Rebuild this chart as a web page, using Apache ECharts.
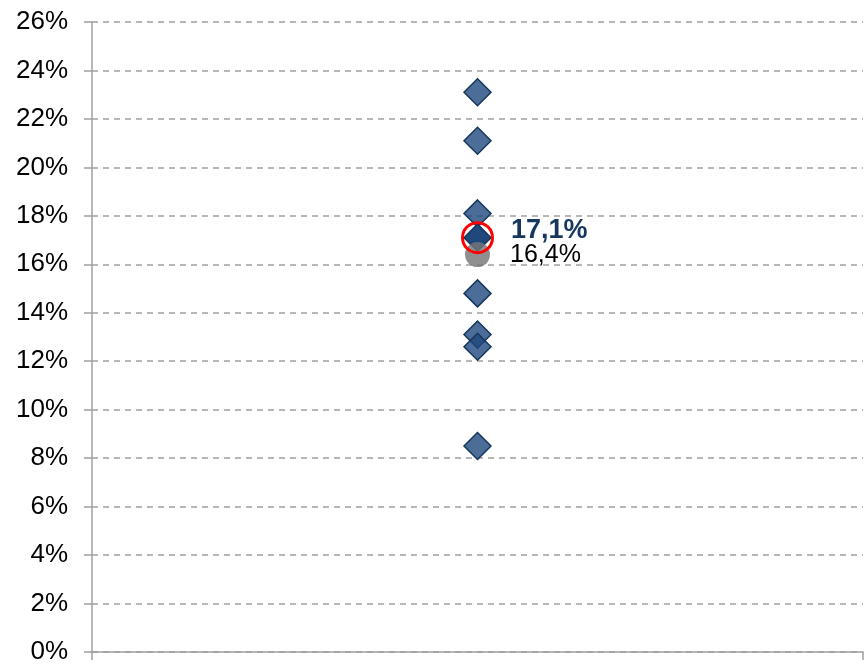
<!DOCTYPE html>
<html><head><meta charset="utf-8">
<script src="https://cdn.jsdelivr.net/npm/echarts@6/dist/echarts.min.js"></script>
<style>html,body{margin:0;padding:0;background:#fff}#c{width:864px;height:665px}</style>
</head><body><div id="c"></div>
<script>
const categories = [''];
const peerValues = [23.1, 21.1, 18.1, 14.8, 13.1, 12.6, 8.5];
const focusValue = [17.1];
const medianValue = [16.4];
const yTicks = {min: 0, max: 26, interval: 2};

const fmt = v => v.toFixed(1).replace('.', ',') + '%';
const FONT = 'Liberation Sans, Arial, Helvetica, sans-serif';
const chart = echarts.init(document.getElementById('c'));
chart.setOption({
  animation: false,
  grid: {left: 92, right: 1, top: 22, bottom: 13, containLabel: false},
  xAxis: {
    type: 'category', data: categories, boundaryGap: true,
    axisLine: {lineStyle: {color: '#a0a0a0', width: 1.5}},
    axisTick: {show: true, length: 8, lineStyle: {color: '#a0a0a0', width: 1.5}},
    axisLabel: {show: false}
  },
  yAxis: {
    type: 'value', min: yTicks.min, max: yTicks.max, interval: yTicks.interval,
    axisLine: {show: true, lineStyle: {color: '#a0a0a0', width: 1.5}},
    axisTick: {show: true, length: 8, lineStyle: {color: '#a0a0a0', width: 1.5}},
    axisLabel: {formatter: '{value}%', color: '#000', fontSize: 26, fontFamily: FONT, margin: 24},
    splitLine: {show: true, lineStyle: {color: '#a0a0a0', type: [6, 5], width: 1.5}}
  },
  series: [
    {
      type: 'scatter', symbol: 'diamond', symbolSize: 27,
      data: peerValues.map(v => [0, v]),
      itemStyle: {color: 'rgba(31,73,125,0.8)', borderColor: '#17375e', borderWidth: 1.5, opacity: 1},
      z: 2
    },
    {
      type: 'scatter', symbol: 'diamond', symbolSize: 27,
      data: focusValue.map(v => [0, v]),
      itemStyle: {color: '#1f497d', borderColor: '#17375e', borderWidth: 1.5, opacity: 1},
      z: 3
    },
    {
      type: 'scatter', symbol: 'circle', symbolSize: 25,
      data: medianValue.map(v => [0, v]),
      itemStyle: {color: 'rgba(118,118,118,0.82)', opacity: 1},
      label: {show: true, position: 'right', distance: 20, offset: [0, 0], formatter: p => fmt(p.value[1]),
        color: '#000', fontSize: 25, fontFamily: FONT, opacity: 1},
      z: 4
    },
    {
      type: 'scatter', symbol: 'circle', symbolSize: 30,
      data: focusValue.map(v => [0, v]),
      itemStyle: {color: 'rgba(0,0,0,0)', borderColor: '#ff0000', borderWidth: 3, opacity: 1},
      label: {show: true, position: 'right', distance: 17, offset: [0, -7], formatter: p => fmt(p.value[1]),
        color: '#17375e', fontSize: 27, fontWeight: 'bold', fontFamily: FONT, opacity: 1},
      z: 5
    }
  ]
});
</script></body></html>
